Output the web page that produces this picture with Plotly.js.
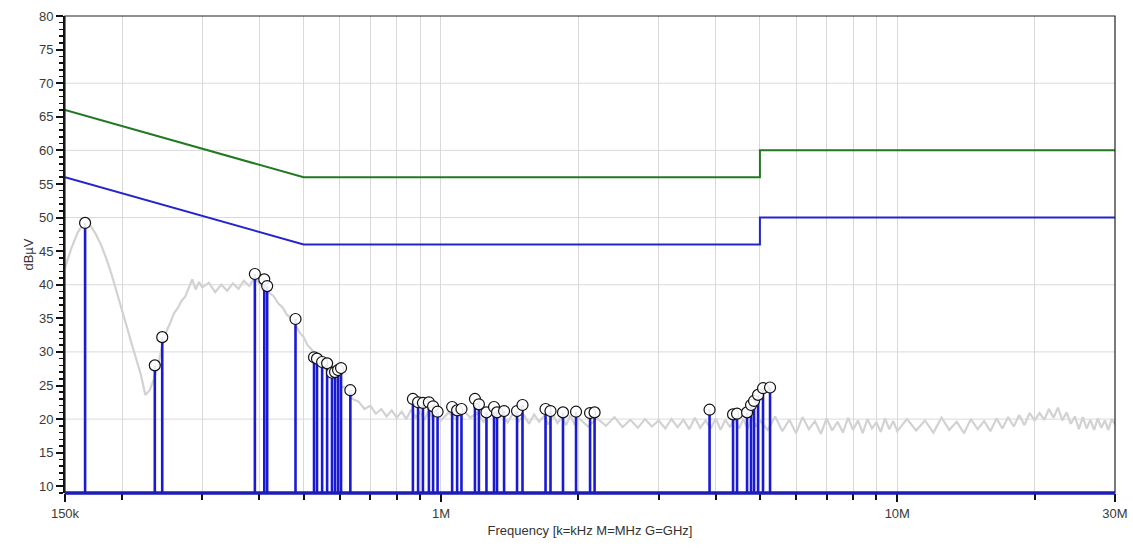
<!DOCTYPE html>
<html>
<head>
<meta charset="utf-8">
<script src="https://cdn.plot.ly/plotly-3.0.1.min.js"></script>
<style>html,body{margin:0;padding:0;background:#fff;}#chart{width:1133px;height:548px;}</style>
</head>
<body>
<div id="chart"></div>
<script>
// ---- Data (frequencies in MHz, levels in dBµV) ----
const limitFreq = [0.15, 0.5, 5, 5, 30];
const limitQP   = [66, 56, 56, 60, 60];
const limitAV   = [56, 46, 46, 50, 50];

const scanFreq = [
 0.150,0.155,0.160,0.165,0.170,0.175,0.180,0.185,0.190,0.195,0.200,0.205,0.210,0.215,0.220,0.225,0.230,0.235,0.240,0.245,0.250,0.255,0.260,0.265,0.270,0.275,0.280,0.285,0.290,0.295,0.300,
 0.31,0.32,0.33,0.34,0.35,0.36,0.37,0.38,0.39,0.40,0.41,0.42,0.43,0.44,0.45,0.46,0.47,0.48,0.49,0.50,0.51,0.52,0.53,0.54,0.55,0.56,0.57,0.58,0.59,0.60,
 0.62,0.64,0.66,0.68,0.70,0.72,0.74,0.76,0.78,0.80,0.82,0.84,0.86,0.88,0.90,0.92,0.94,0.96,0.98,1.00,
 1.04,1.08,1.12,1.16,1.20,1.24,1.28,1.32,1.36,1.40,1.44,1.48,1.52,1.56,1.60,1.64,1.68,1.72,1.76,1.80,1.84,1.88,1.92,1.96,2.00,
 2.1,2.2,2.3,2.4,2.5,2.6,2.7,2.8,2.9,3.0,3.1,3.2,3.3,3.4,3.5,3.6,3.7,3.8,3.9,4.0,4.1,4.2,4.3,4.4,4.5,4.6,4.7,4.8,4.9,5.0,
 5.2,5.4,5.6,5.8,6.0,6.2,6.4,6.6,6.8,7.0,7.2,7.4,7.6,7.8,8.0,8.2,8.4,8.6,8.8,9.0,9.2,9.4,9.6,9.8,10.0,
 10.5,11,11.5,12,12.5,13,13.5,14,14.5,15,15.5,16,16.5,17,17.5,18,18.5,19,19.5,20,20.5,21,21.5,22,22.5,23,23.5,24,24.5,25,25.5,26,26.5,27,27.5,28,28.5,29,29.5,30
];
const scanLevel = [
 42.5,45.5,47.8,49.2,48.9,47.6,45.9,43.8,41.4,38.9,36.3,33.7,31.2,28.9,26.6,23.6,24.3,25.9,28.0,31.0,33.0,34.3,35.8,36.5,37.6,38.2,39.5,40.8,39.3,40.4,39.6,
 40.3,38.9,40.0,39.1,40.2,39.4,40.6,39.8,41.0,40.2,39.6,38.8,38.3,37.2,36.6,35.5,35.0,34.0,32.9,32.2,31.0,30.4,29.6,28.7,28.4,27.4,27.0,26.1,25.8,25.0,
 24.6,23.0,22.6,21.5,22.0,20.8,21.5,20.4,21.3,20.2,21.1,20.0,21.4,20.3,21.0,19.9,21.2,20.1,20.9,19.8,
 21.0,19.9,21.3,20.2,20.9,19.6,21.1,20.0,20.8,19.5,20.9,19.7,20.6,19.3,20.7,19.6,20.4,19.2,20.6,19.4,20.3,19.1,20.5,19.3,20.2,
 18.9,20.1,19.0,20.3,18.8,19.9,18.7,20.0,18.9,19.8,18.6,20.0,18.8,19.9,18.5,20.2,18.7,19.8,18.6,20.1,18.4,19.9,18.8,20.2,18.6,20.0,18.5,20.3,18.9,19.8,
 18.4,20.4,18.2,19.9,17.9,20.3,18.5,19.7,17.8,20.1,18.3,19.6,18.0,20.2,18.4,19.8,17.9,20.0,18.6,19.5,18.1,20.1,18.5,19.7,18.2,
 20.0,18.3,19.8,18.0,20.2,18.4,19.6,17.9,20.0,18.5,19.7,18.2,20.1,18.6,20.3,18.9,20.6,19.1,20.9,19.8,20.9,19.9,21.5,20.2,21.7,19.8,21.0,19.3,20.4,18.5,20.3,18.6,19.9,18.4,20.1,18.7,19.8,18.4,20.0,19.2
];

const peakFreq = [0.166,0.236,0.245,0.391,0.410,0.416,0.480,0.527,0.535,0.549,0.563,0.577,0.586,0.595,0.604,0.633,
 0.868,0.891,0.913,0.941,0.961,0.983,1.058,1.085,1.109,1.187,1.211,1.258,1.307,1.327,1.375,1.468,1.509,1.695,1.738,1.851,1.977,2.122,2.171,
 3.878,4.366,4.455,4.686,4.781,4.854,4.953,5.079,5.262];
const peakLevel = [49.2,28.0,32.2,41.6,40.8,39.8,34.9,29.2,29.0,28.5,28.3,26.9,27.0,27.3,27.6,24.3,
 23.0,22.5,22.4,22.5,21.9,21.1,21.8,21.3,21.5,23.0,22.2,21.0,21.8,21.0,21.2,21.2,22.1,21.5,21.2,21.0,21.1,20.9,21.0,
 21.4,20.7,20.8,21.0,22.1,22.7,23.6,24.6,24.7];

const xTickVals = [0.15, 1, 10, 30];
const xTickText = ['150k', '1M', '10M', '30M'];
const xMinorVals = [0.2,0.3,0.4,0.5,0.6,0.7,0.8,0.9,2,3,4,5,6,7,8,9,20];
const yTickVals = [10,15,20,25,30,35,40,45,50,55,60,65,70,75,80];
const yGridVals = [20,30,40,50,60,70];
const yFloor = 9, yTop = 80;

// ---- Traces ----
const traces = [
  {x: scanFreq, y: scanLevel, type: 'scatter', mode: 'lines',
   line: {color: '#d2d2d2', width: 2.2}, hoverinfo: 'skip'},
  {x: limitFreq, y: limitQP, type: 'scatter', mode: 'lines',
   line: {color: '#217a21', width: 2}},
  {x: limitFreq, y: limitAV, type: 'scatter', mode: 'lines',
   line: {color: '#2424cc', width: 2}},
  {x: peakFreq, y: peakLevel, type: 'scatter', mode: 'markers',
   marker: {symbol: 'circle', size: 11, color: 'rgba(255,255,255,0.9)', line: {width: 1.2, color: '#111'}},
   error_y: {type: 'data', symmetric: false, array: peakLevel.map(() => 0),
             arrayminus: peakLevel.map(v => v - yFloor), color: '#1a1ad2', thickness: 2.6, width: 0}}
];

const font = {family: '"Liberation Sans", Arial, sans-serif', size: 13, color: '#3a3a3a'};

const shapes = yGridVals.map(v => ({type: 'line', xref: 'paper', x0: 0, x1: 1, yref: 'y', y0: v, y1: v,
  line: {color: '#d9d9d9', width: 1}, layer: 'below'}));
shapes.push({type: 'rect', xref: 'paper', yref: 'paper', x0: 0, x1: 1, y0: 0, y1: 1,
  line: {color: '#222', width: 1.2}, layer: 'above'});
shapes.push({type: 'line', xref: 'paper', yref: 'paper', x0: 0, x1: 1, y0: 0, y1: 0,
  line: {color: '#1c1cb8', width: 3.5}, layer: 'above'});

const layout = {
  width: 1133, height: 548,
  margin: {l: 65, r: 18, t: 16, b: 55},
  paper_bgcolor: '#ffffff', plot_bgcolor: '#ffffff',
  showlegend: false,
  font: font,
  shapes: shapes,
  xaxis: {
    type: 'log', range: [Math.log10(0.15), Math.log10(30)],
    tickmode: 'array', tickvals: xTickVals, ticktext: xTickText,
    ticks: 'outside', ticklen: 8, tickwidth: 2, tickcolor: '#111',
    showgrid: true, gridcolor: '#d9d9d9', gridwidth: 1,
    minor: {tickvals: xMinorVals, ticks: 'outside', ticklen: 6, tickwidth: 2, tickcolor: '#111',
            showgrid: true, gridcolor: '#d9d9d9', gridwidth: 1},
    showline: false, zeroline: false,
    tickfont: font,
    title: {text: 'Frequency [k=kHz M=MHz G=GHz]', font: {family: font.family, size: 13, color: '#333'}, standoff: 6},
    automargin: false
  },
  yaxis: {
    range: [yFloor, yTop],
    tickmode: 'array', tickvals: yTickVals,
    ticks: 'outside', ticklen: 7, tickwidth: 2, tickcolor: '#111',
    minor: {dtick: 1, ticks: 'outside', ticklen: 4, tickwidth: 1.5, tickcolor: '#111', showgrid: false},
    showgrid: false, zeroline: false,
    showline: true, linecolor: '#111', linewidth: 2,
    tickfont: font,
    title: {text: 'dBµV', font: {family: font.family, size: 13, color: '#333'}, standoff: 2},
    automargin: false
  }
};

Plotly.newPlot('chart', traces, layout, {displayModeBar: false, staticPlot: true});
</script>
</body>
</html>
